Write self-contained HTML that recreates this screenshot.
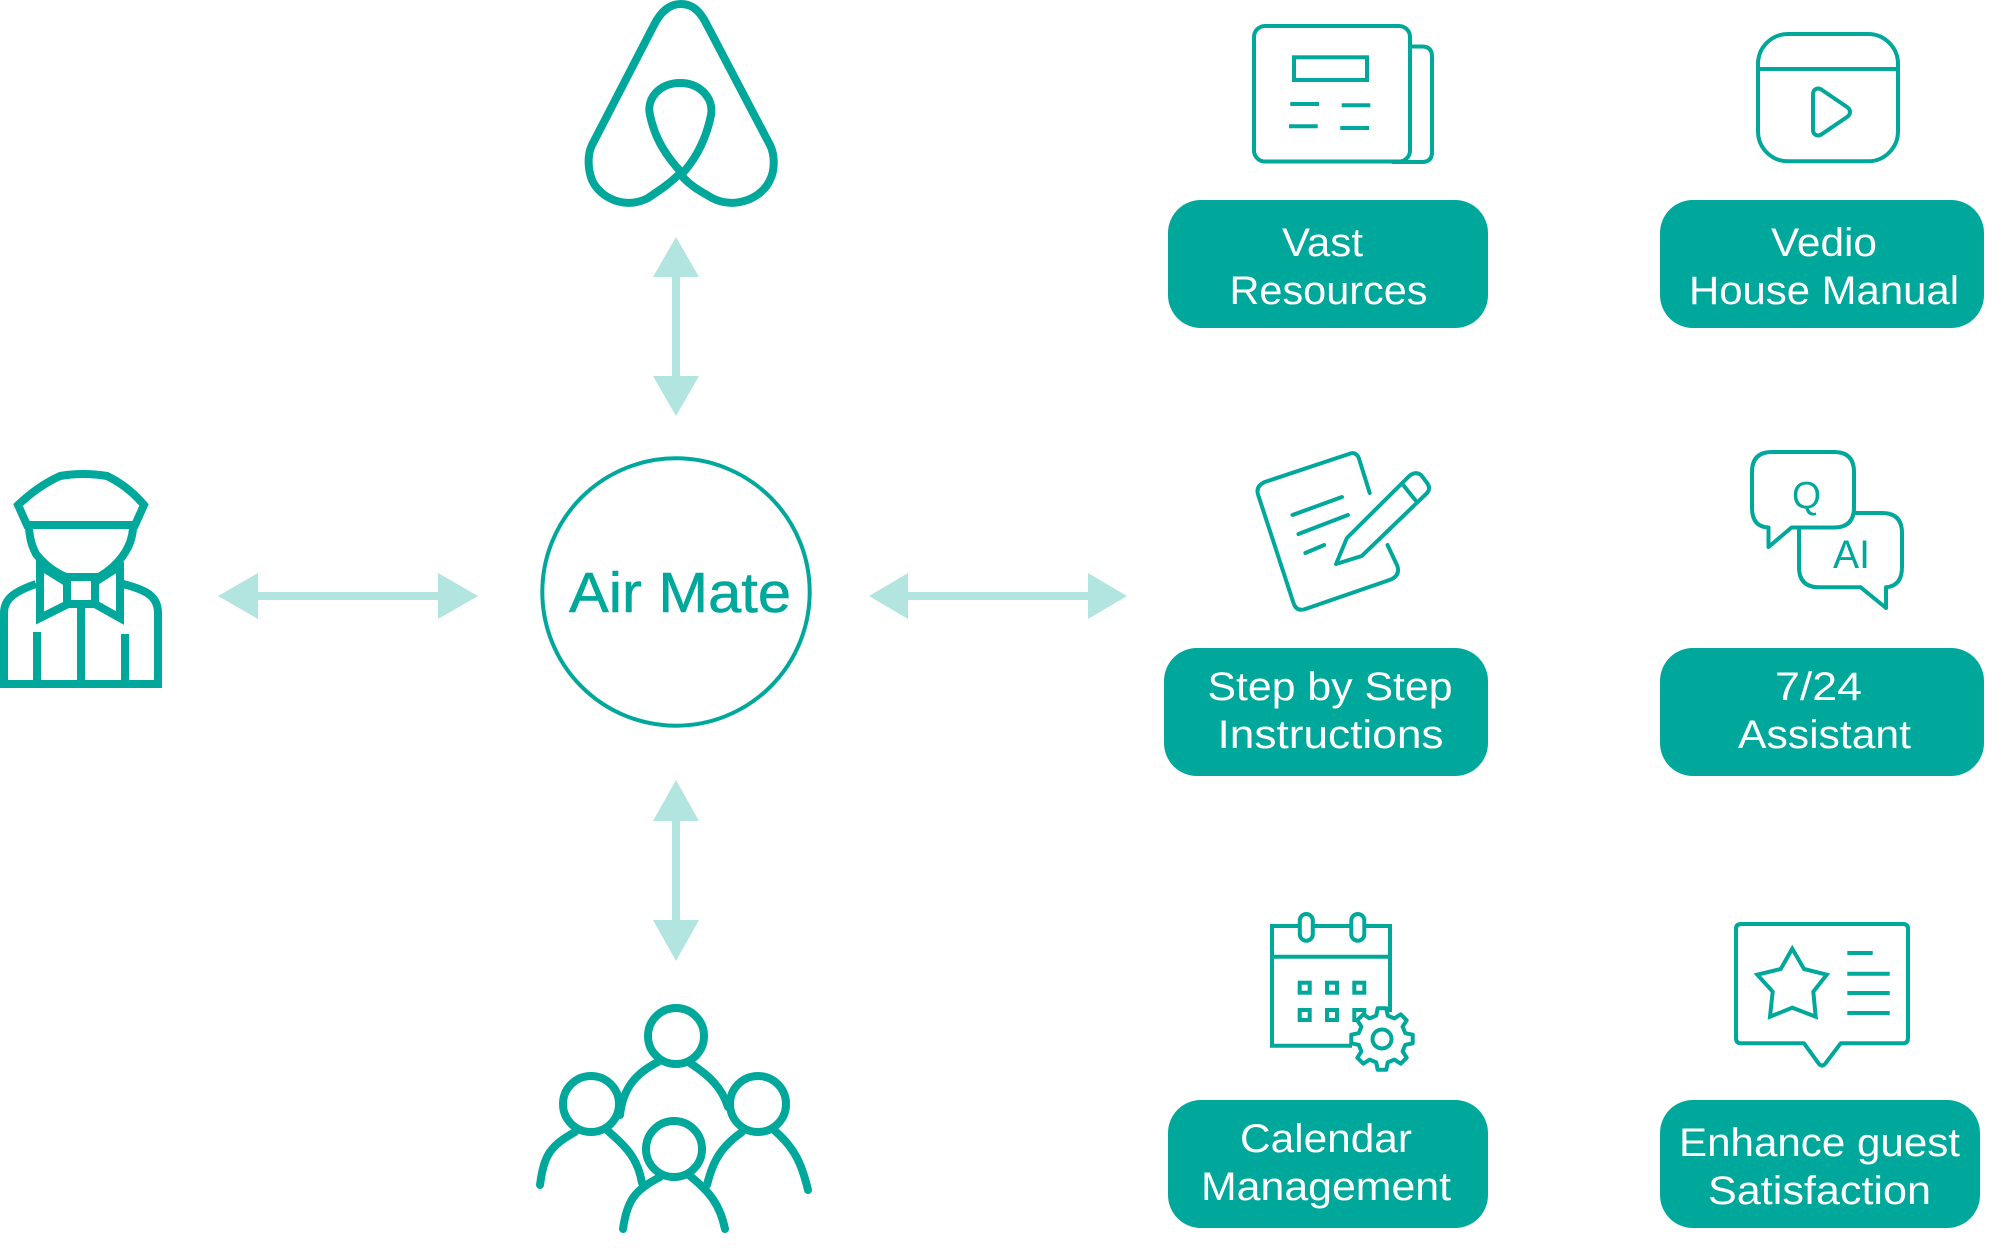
<!DOCTYPE html>
<html><head><meta charset="utf-8"><style>
html,body{margin:0;padding:0;background:#fff;width:2012px;height:1248px;overflow:hidden}
svg{display:block}
.l{font-family:"Liberation Sans",sans-serif;font-size:40px;fill:#fff;stroke:none}
.t{fill:none;stroke:#00A89C;stroke-linejoin:round;stroke-linecap:round}
.a{fill:#B2E5E0;stroke:none}
.p{fill:#00A89C;stroke:none}
</style></head><body>
<svg width="2012" height="1248" viewBox="0 0 2012 1248" xmlns="http://www.w3.org/2000/svg">
<rect width="2012" height="1248" fill="#fff"/>

<!-- Airbnb logo -->
<path class="t" stroke-width="8" d="M681 4C667 4 659 15 654 25L592 145C587 155 588 170 592 180C600 198 625 210 648 198C660 190 672 182 681 172C668 158 655 140 650 115C646 98 660 83 680 83C700 83 714 98 711 115C706 140 695 160 681 175C690 186 702 192 712 198C735 210 762 198 770 180C775 170 775 155 770 145L707 25C702 15 695 4 681 4Z"/>

<!-- Arrows -->
<g class="a">
<path d="M676 237L699 277H680V376H699L676 416L653 376H672V277H653Z"/>
<path d="M676 780L699 821H680V920H699L676 961L653 920H672V821H653Z"/>
<path d="M218 596L258 573V592H438V573L478 596L438 619V600H258V619Z"/>
<path d="M869 596L908 573V592H1088V573L1127 596L1088 619V600H908V619Z"/>
</g>

<!-- Centre -->
<circle class="t" cx="676" cy="592" r="133.700" stroke-width="4"/>
<text x="569" y="612" font-family="'Liberation Sans',sans-serif" font-size="57" fill="#00A89C" stroke="#00A89C" stroke-width="0.6" textLength="222" lengthAdjust="spacingAndGlyphs">Air Mate</text>

<!-- Porter -->
<g fill="none" stroke="#00A89C" stroke-width="8" stroke-linejoin="miter">
<path d="M18 505Q38 486 60 476Q83 472 107 476Q128 486 144 505L135 525H27Z"/>
<path d="M29 528C30 540 32 546 36 554C44 564 54 572 66 577H99C118 566 132 548 133 528"/>
<path d="M40 558V618L68 604H95L120 618V562"/>
<rect x="67" y="577" width="28" height="27"/>
<path d="M40 566L66 582M120 566L95 582"/>
<path d="M36 584C16 591 4 598 4 613V684H158V613C158 596 146 590 123 584"/>
<path d="M81 604V684M37 632V684M125 634V684"/>
</g>

<!-- Guests -->
<g class="t" stroke-width="8">
<circle cx="676" cy="1036" r="28"/>
<circle cx="591" cy="1104" r="28"/>
<circle cx="758" cy="1104" r="28"/>
<circle cx="674" cy="1149" r="28"/>
<path d="M658 1062C636 1073 623 1088 620 1115M690 1063C710 1076 722 1088 728 1107"/>
<path d="M575 1132C550 1146 544 1155 540 1185M608 1131C628 1148 638 1160 642 1183"/>
<path d="M742 1132C722 1146 713 1160 707 1185M775 1131C795 1148 802 1165 808 1190"/>
<path d="M660 1177C635 1190 627 1200 623 1229M690 1176C710 1192 720 1205 725 1229"/>
</g>

<!-- Pills -->
<g class="p">
<rect x="1168" y="200" width="320" height="128" rx="33"/>
<rect x="1660" y="200" width="324" height="128" rx="33"/>
<rect x="1164" y="648" width="324" height="128" rx="33"/>
<rect x="1660" y="648" width="324" height="128" rx="33"/>
<rect x="1168" y="1100" width="320" height="128" rx="33"/>
<rect x="1660" y="1100" width="320" height="128" rx="33"/>
</g>
<g class="l">
<text x="1282" y="256" textLength="81" lengthAdjust="spacingAndGlyphs">Vast</text>
<text x="1229.500" y="304" textLength="198" lengthAdjust="spacingAndGlyphs">Resources</text>
<text x="1771" y="256" textLength="106" lengthAdjust="spacingAndGlyphs">Vedio</text>
<text x="1689" y="304" textLength="270" lengthAdjust="spacingAndGlyphs">House Manual</text>
<text x="1207.500" y="700" textLength="245" lengthAdjust="spacingAndGlyphs">Step by Step</text>
<text x="1217.500" y="748" textLength="226" lengthAdjust="spacingAndGlyphs">Instructions</text>
<text x="1775" y="700" textLength="87" lengthAdjust="spacingAndGlyphs">7/24</text>
<text x="1738" y="748" textLength="173" lengthAdjust="spacingAndGlyphs">Assistant</text>
<text x="1240" y="1152" textLength="172" lengthAdjust="spacingAndGlyphs">Calendar</text>
<text x="1201" y="1200" textLength="250" lengthAdjust="spacingAndGlyphs">Management</text>
<text x="1679" y="1156" textLength="281" lengthAdjust="spacingAndGlyphs">Enhance guest</text>
<text x="1708" y="1204" textLength="223" lengthAdjust="spacingAndGlyphs">Satisfaction</text>
</g>

<!-- Newspaper -->
<g class="t" stroke-width="4">
<rect x="1254" y="26" width="156" height="135.500" rx="11"/>
<path d="M1412 46.500H1422Q1432 46.500 1432 56.500V152Q1432 162 1422 162H1393"/>
<rect x="1294" y="57.300" width="73" height="22.700" stroke-linejoin="miter"/>
<path stroke-linecap="butt" d="M1290.300 104H1319M1341.700 105.300H1370.300M1289 126.300H1317.700M1340.300 128H1369"/>
</g>

<!-- Video -->
<g class="t" stroke-width="4">
<rect x="1758" y="34" width="140" height="127.300" rx="30"/>
<path d="M1758 69H1898"/>
<path d="M1813 94C1813 89 1818 87 1822 90L1847 107C1851 110 1851 114 1847 117L1822 134C1818 137 1813 135 1813 130Z"/>
</g>

<!-- Document & pencil -->
<g class="t" stroke-width="4" transform="translate(1150 0) scale(.98955 1) translate(-1150 0)">
<path d="M1372 493L1361 458Q1358 451 1351 454L1266 482Q1257 486 1259 494L1295 603Q1298 612 1307 609L1392 580Q1403 576 1400 566L1390 545"/>
<path d="M1294 515L1344 497M1300 534L1350 515M1307 553L1326 545"/>
<path d="M1338 564L1349 538L1412 476Q1418 471 1424 475L1430 483Q1434 488 1430 493L1364 556Z"/>
<path d="M1405 484L1418 500"/>
</g>

<!-- Chat -->
<g class="t" stroke-width="4">
<path d="M1791.500 527.500H1834Q1854 527.500 1854 507.500V472Q1854 452 1834 452H1772Q1752 452 1752 472V507.500Q1752 527 1768.500 527.500V547Z"/>
<path d="M1856 513H1882Q1902 513 1902 533V567Q1902 586 1886 587.300V608L1860.700 587.300H1819Q1799 587.300 1799 567V529"/>
</g>
<text x="1792" y="508" font-family="'Liberation Sans',sans-serif" font-size="38" fill="#00A89C" textLength="29" lengthAdjust="spacingAndGlyphs">Q</text>
<text x="1833" y="568" font-family="'Liberation Sans',sans-serif" font-size="40" fill="#00A89C" textLength="37" lengthAdjust="spacingAndGlyphs">AI</text>

<!-- Calendar -->
<g fill="none" stroke="#00A89C" stroke-width="4">
<path d="M1352 1045.700H1272V926H1390V1012"/>
<path d="M1272 956.700H1390"/>
<rect x="1299.800" y="914" width="13" height="26.700" rx="6.500" fill="#fff"/>
<rect x="1351.300" y="914" width="13" height="26.700" rx="6.500" fill="#fff"/>
<rect x="1299.700" y="982.700" width="10" height="10"/><rect x="1327" y="982.700" width="10" height="10"/><rect x="1354.300" y="982.700" width="10" height="10"/>
<rect x="1299.700" y="1010" width="10" height="10"/><rect x="1327" y="1010" width="10" height="10"/><rect x="1354.300" y="1010" width="10" height="10"/>
<g transform="translate(1382 1039)">
<polygon fill="#fff" stroke-linejoin="round" points="23.300,-5.800 30.700,-4.300 30.700,4.300 23.300,5.800 20.600,12.400 24.700,18.700 18.700,24.700 12.400,20.600 5.800,23.300 4.300,30.700 -4.300,30.700 -5.800,23.300 -12.400,20.600 -18.700,24.700 -24.700,18.700 -20.600,12.400 -23.300,5.800 -30.700,4.300 -30.700,-4.300 -23.300,-5.800 -20.600,-12.400 -24.700,-18.700 -18.700,-24.700 -12.400,-20.600 -5.800,-23.300 -4.300,-30.700 4.300,-30.700 5.800,-23.300 12.400,-20.600 18.700,-24.700 24.700,-18.700 20.600,-12.400"/>
<circle r="9.500"/>
</g>
</g>

<!-- Review bubble -->
<g class="t" stroke-width="4">
<path d="M1804 1043.300H1741Q1736 1043.300 1736 1038V929Q1736 924 1741 924H1903Q1908 924 1908 929V1038Q1908 1043.300 1903 1043.300H1840.700L1825 1064Q1822 1067 1819 1064Z"/>
<path stroke-linejoin="miter" d="M1792.300 948.700L1804 969L1826.700 974.700L1813.300 991.700L1815.700 1016.700L1792.300 1007.700L1770 1016.700L1772.700 991.700L1757.300 974.700L1780.700 969Z"/>
<path stroke-linecap="butt" d="M1847.300 953H1872.700M1847.300 973.700H1889.700M1847.300 993H1889.700M1847.300 1013H1889.700"/>
</g>
</svg>
</body></html>
